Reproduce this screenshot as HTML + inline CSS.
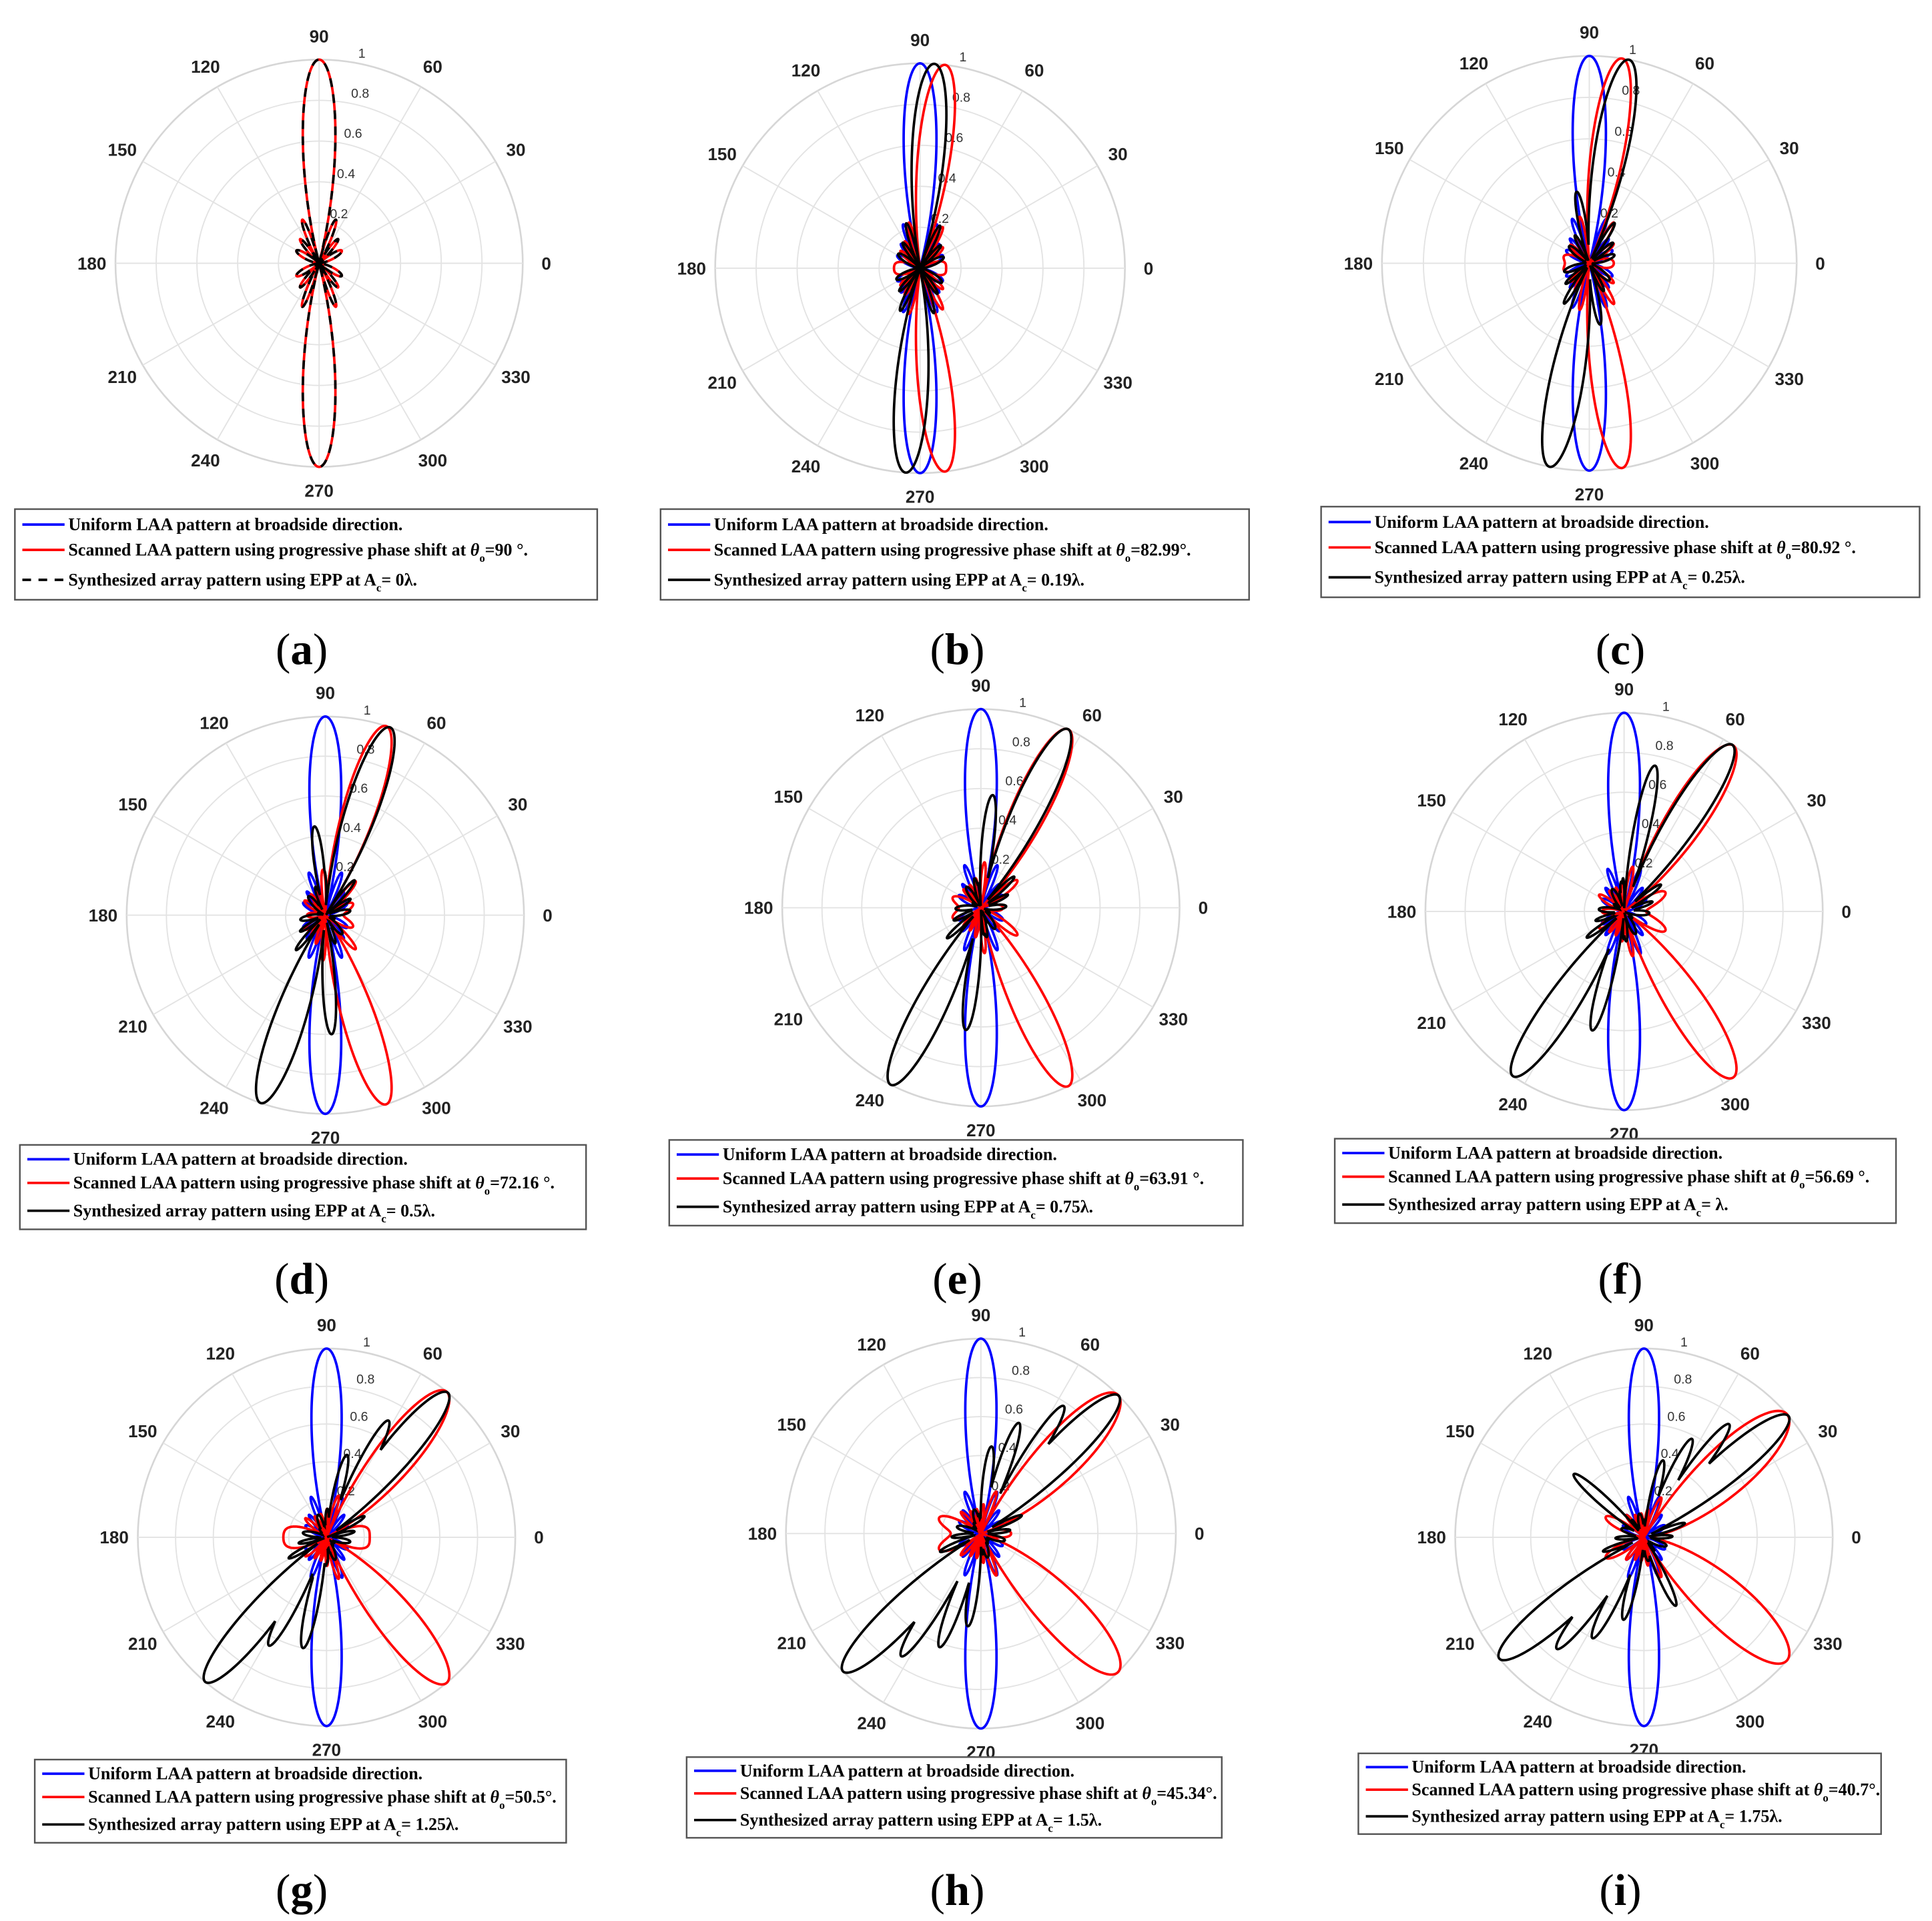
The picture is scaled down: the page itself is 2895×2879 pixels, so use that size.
<!DOCTYPE html>
<html><head><meta charset="utf-8"><style>
html,body{margin:0;padding:0;background:#fff}
svg{display:block}
</style></head><body>
<svg id="fig" xmlns="http://www.w3.org/2000/svg" width="2895" height="2879" viewBox="0 0 1556 1547" preserveAspectRatio="none"></svg>
<script>
// ---- data ----
const panelLetters = ['a','b','c','d','e','f','g','h','i'];
const scanAngles = [90, 82.99, 80.92, 72.16, 63.91, 56.69, 50.5, 45.34, 40.7];
const scanLabels = ['=90 °.', '=82.99°.', '=80.92 °.', '=72.16 °.', '=63.91 °.', '=56.69 °.', '=50.5°.', '=45.34°.', '=40.7°.'];
const acLabels = ['= 0λ.', '= 0.19λ.', '= 0.25λ.', '= 0.5λ.', '= 0.75λ.', '= λ.', '= 1.25λ.', '= 1.5λ.', '= 1.75λ.'];
const blackLobeAngles = [
  [90, 270],
  [86, 266],
  [79, 259, 100, 280],
  [71, 251, 97, 273],
  [64, 243, 84, 263],
  [57, 236, 78, 255],
  [50, 230, 62, 242, 76, 258],
  [45, 225, 57, 237, 71, 250, 83, 262],
  [40, 220, 53, 232, 64, 243, 76, 256, 138, 295]
];
const blackLobeAmps = [
  [1, 1],
  [1, 1],
  [1, 1, 0.35, 0.3],
  [1, 1, 0.45, 0.6],
  [1, 1, 0.57, 0.62],
  [1, 1, 0.75, 0.62],
  [1, 1, 0.7, 0.65, 0.45, 0.6],
  [1, 1, 0.78, 0.75, 0.6, 0.62, 0.45, 0.48],
  [1, 1, 0.75, 0.75, 0.58, 0.6, 0.42, 0.45, 0.5, 0.4]
];
const radialTicks = [0.2, 0.4, 0.6, 0.8, 1];
const angleTicks = [0, 30, 60, 90, 120, 150, 180, 210, 240, 270, 300, 330];
// ---- layout ----
const panels = [
  {cx:257,cy:212,R:164,lx:12,ly:410,lw:469,lh:73,tx:243,ty:523},
  {cx:741,cy:216,R:165,lx:532,ly:410,lw:474,lh:73,tx:771,ty:523},
  {cx:1280,cy:212,R:167,lx:1064,ly:408,lw:482,lh:73,tx:1305,ty:523},
  {cx:262,cy:737,R:160,lx:16,ly:922,lw:456,lh:68,tx:243,ty:1030},
  {cx:790,cy:731,R:160,lx:539,ly:918,lw:462,lh:69,tx:771,ty:1030},
  {cx:1308,cy:734,R:160,lx:1075,ly:917,lw:452,lh:68,tx:1305,ty:1030},
  {cx:263,cy:1238,R:152,lx:28,ly:1417,lw:428,lh:67,tx:243,ty:1522},
  {cx:790,cy:1235,R:157,lx:553,ly:1415,lw:431,lh:65,tx:771,ty:1522},
  {cx:1324,cy:1238,R:152,lx:1094,ly:1412,lw:421,lh:65,tx:1305,ty:1522}
];
const N = 8;
const NS='http://www.w3.org/2000/svg';
const svg=document.getElementById('fig');
function mk(tag,attrs,parent){const e=document.createElementNS(NS,tag);for(const k in attrs)e.setAttribute(k,attrs[k]);(parent||svg).appendChild(e);return e;}
const rad=d=>d*Math.PI/180;
function af(psi,n){const s=Math.sin(psi/2);if(Math.abs(s)<1e-9)return 1;return Math.abs(Math.sin(n*psi/2)/(n*s));}
function scanned(th,th0){return af(Math.PI*(Math.cos(rad(th))-Math.cos(rad(th0))),N);}
function lobe(th,phi,main){const d=rad(th-phi);if(Math.cos(d)<=0)return 0;return af(Math.PI*Math.sin(d),main?N:12);}
function pathFor(p,f){let s='';for(let t=0;t<=360;t+=0.25){const r=Math.min(1,f(t));const x=p.cx+p.R*r*Math.cos(rad(t)),y=p.cy-p.R*r*Math.sin(rad(t));s+=(t===0?'M':'L')+x.toFixed(2)+','+y.toFixed(2);}return s;}

panels.forEach((p,i)=>{
  const g=mk('g',{});
  
  
  radialTicks.forEach(rt=>{
    const c=mk('circle',{cx:p.cx,cy:p.cy,r:p.R*rt,fill:'none',stroke:rt===1?'#d6d6d6':'#e3e3e3','stroke-width':rt===1?1.4:1},g);
    
    
  });
  angleTicks.forEach(a=>{
    const l=mk('line',{x1:p.cx,y1:p.cy,x2:p.cx+p.R*Math.cos(rad(a)),y2:p.cy-p.R*Math.sin(rad(a)),stroke:'#e3e3e3','stroke-width':1},g);
    
    
    const rr=p.R+19;
    const t=mk('text',{x:p.cx+rr*Math.cos(rad(a)),y:p.cy-rr*Math.sin(rad(a))+5,'text-anchor':'middle','font-family':'Liberation Sans, sans-serif','font-size':14,'font-weight':'bold',fill:'#222'},g);
    t.textContent=a;
    
    
  });
  radialTicks.forEach(rt=>{
    const a=rad(80);
    const t=mk('text',{x:p.cx+p.R*rt*Math.cos(a)+3,y:p.cy-p.R*rt*Math.sin(a)-4,'font-family':'Liberation Sans, sans-serif','font-size':10.5,fill:'#333'},g);
    t.textContent=rt;
    
    
  });
  if(i>0){
    const b=mk('path',{d:pathFor(p,t=>scanned(t,90)),fill:'none',stroke:'#0000ff','stroke-width':2},g);
    
    
  }
  const r=mk('path',{d:pathFor(p,t=>scanned(t,scanAngles[i])),fill:'none',stroke:'#ff0000','stroke-width':2},g);
  
  
  const bl=mk('path',{d:pathFor(p,t=>{let m=0;blackLobeAngles[i].forEach((ph,k)=>{m=Math.max(m,blackLobeAmps[i][k]*lobe(t,ph,k<2));});return m;}),fill:'none',stroke:'#000','stroke-width':2,'stroke-dasharray':i===0?'7,6':'none'},g);
  
  
  const lg=mk('g',{},g);
  
  
  mk('rect',{x:p.lx,y:p.ly,width:p.lw,height:p.lh,fill:'#fff',stroke:'#555','stroke-width':1.3},lg);
  const rows=[p.ly+p.lh*0.17,p.ly+p.lh*0.45,p.ly+p.lh*0.78];
  const cols=['#0000ff','#ff0000','#000'];
  rows.forEach((y,k)=>{
    const ln=mk('line',{x1:p.lx+6,y1:y,x2:p.lx+40,y2:y,stroke:cols[k],'stroke-width':2,'stroke-dasharray':(i===0&&k===2)?'7,6':'none'},lg);
    
    
  });
  const fs=14;
  const t1=mk('text',{x:p.lx+43,y:rows[0]+4.5,'font-family':'Liberation Serif, serif','font-size':fs,'font-weight':'bold'},lg);
  t1.textContent='Uniform LAA pattern at broadside direction.';
  
  
  const t2=mk('text',{x:p.lx+43,y:rows[1]+4.5,'font-family':'Liberation Serif, serif','font-size':fs,'font-weight':'bold'},lg);
  t2.innerHTML='Scanned LAA pattern using progressive phase shift at <tspan font-style="italic">θ</tspan><tspan font-size="9" dy="5">o</tspan><tspan dy="-5">'+scanLabels[i]+'</tspan>';
  
  
  const t3=mk('text',{x:p.lx+43,y:rows[2]+4.5,'font-family':'Liberation Serif, serif','font-size':fs,'font-weight':'bold'},lg);
  t3.innerHTML='Synthesized array pattern using EPP at A<tspan font-size="9" dy="5">c</tspan><tspan dy="-5">'+acLabels[i]+'</tspan>';
  
  
  const pl=mk('text',{x:p.tx,y:p.ty+12,'text-anchor':'middle','font-family':'Liberation Serif, serif','font-size':36,fill:'#000'},svg);
  pl.innerHTML='(<tspan font-weight="bold">'+panelLetters[i]+'</tspan>)';
  
  
});
</script>
</body></html>
